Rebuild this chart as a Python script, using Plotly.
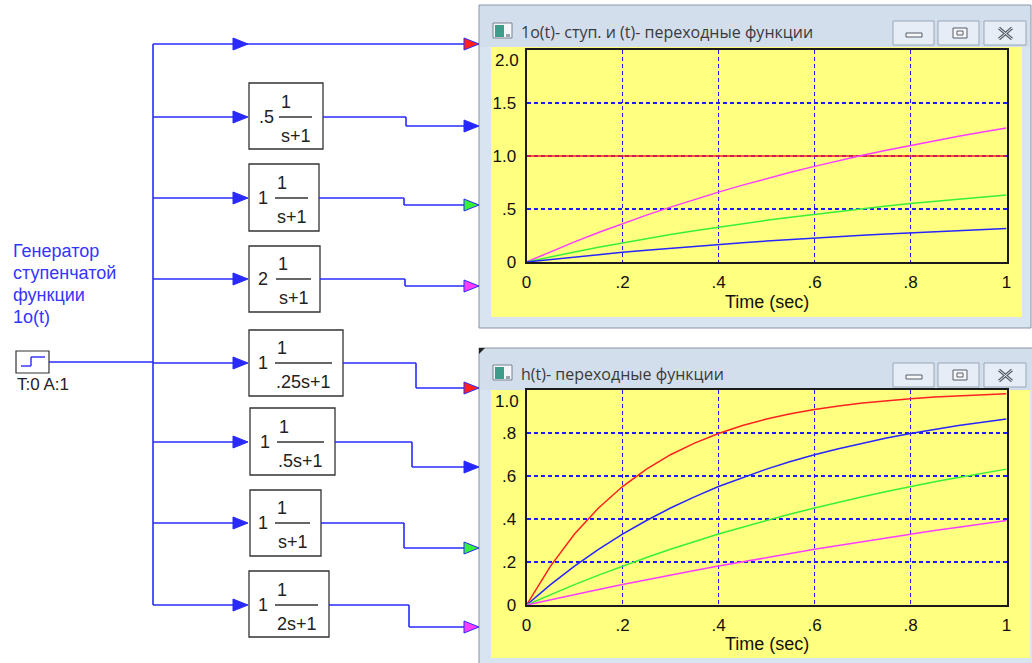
import plotly.graph_objects as go

W, H = 1032, 663

# ---------------- data ----------------
t = [0.0, 0.05, 0.1, 0.15, 0.2, 0.25, 0.3, 0.35, 0.4, 0.45, 0.5,
     0.55, 0.6, 0.65, 0.7, 0.75, 0.8, 0.85, 0.9, 0.95, 1.0]

# upper window: step 1o(t) and gains .5, 1, 2 times 1/(s+1)
top_step = [1.0, 1.0, 1.0, 1.0, 1.0, 1.0, 1.0, 1.0, 1.0, 1.0, 1.0,
            1.0, 1.0, 1.0, 1.0, 1.0, 1.0, 1.0, 1.0, 1.0, 1.0]
top_k05 = [0.0, 0.024, 0.048, 0.070, 0.091, 0.111, 0.130, 0.148, 0.165, 0.181, 0.197,
           0.212, 0.226, 0.239, 0.252, 0.264, 0.275, 0.286, 0.297, 0.307, 0.316]
top_k1 = [0.0, 0.049, 0.095, 0.139, 0.181, 0.221, 0.259, 0.295, 0.330, 0.362, 0.393,
          0.423, 0.451, 0.478, 0.503, 0.528, 0.551, 0.573, 0.593, 0.613, 0.632]
top_k2 = [0.0, 0.098, 0.190, 0.279, 0.363, 0.442, 0.518, 0.590, 0.659, 0.725, 0.787,
          0.846, 0.902, 0.956, 1.007, 1.055, 1.101, 1.145, 1.187, 1.227, 1.264]

# lower window: 1/(Ts+1) with T = .25, .5, 1, 2
bot_T025 = [0.0, 0.181, 0.330, 0.451, 0.551, 0.632, 0.699, 0.753, 0.798, 0.835, 0.865,
            0.889, 0.909, 0.926, 0.939, 0.950, 0.959, 0.967, 0.973, 0.978, 0.982]
bot_T05 = [0.0, 0.095, 0.181, 0.259, 0.330, 0.393, 0.451, 0.503, 0.551, 0.593, 0.632,
           0.667, 0.699, 0.727, 0.753, 0.777, 0.798, 0.817, 0.835, 0.850, 0.865]
bot_T1 = [0.0, 0.049, 0.095, 0.139, 0.181, 0.221, 0.259, 0.295, 0.330, 0.362, 0.393,
          0.423, 0.451, 0.478, 0.503, 0.528, 0.551, 0.573, 0.593, 0.613, 0.632]
bot_T2 = [0.0, 0.025, 0.049, 0.072, 0.095, 0.118, 0.139, 0.161, 0.181, 0.201, 0.221,
          0.240, 0.259, 0.277, 0.295, 0.313, 0.330, 0.346, 0.362, 0.378, 0.393]

x_tickvals = [0, 0.2, 0.4, 0.6, 0.8, 1.0]
x_ticktext = ["0", ".2", ".4", ".6", ".8", "1"]
top_y_tickvals = [0, 0.5, 1.0, 1.5, 2.0]
top_y_ticktext = ["0", ".5", "1.0", "1.5", "2.0"]
bot_y_tickvals = [0, 0.2, 0.4, 0.6, 0.8, 1.0]
bot_y_ticktext = ["0", ".2", ".4", ".6", ".8", "1.0"]

top_title = "1o(t)- ступ. и (t)- переходные функции"
bot_title = "h(t)- переходные функции"
x_title = "Time (sec)"
gen_label = ["Генератор", "ступенчатой", "функции", "1o(t)"]
gen_params = "T:0 A:1"
block_gain = [".5", "1", "2", "1", "1", "1", "1"]
block_num = ["1", "1", "1", "1", "1", "1", "1"]
block_den = ["s+1", "s+1", "s+1", ".25s+1", ".5s+1", "s+1", "2s+1"]

# ---------------- styles / geometry ----------------
RED, BLUE, GREEN, MAG = "#ff2020", "#2626ff", "#38f038", "#ff3cff"
WIRE = "#2a2aff"
YELLOW = "#ffff80"
FRAME = "#d9e4f1"
FONT = "Liberation Sans"


def X(px):
    return px / W


def Y(py):
    return 1 - py / H


shapes = []
annotations = []


def line(x0, y0, x1, y1, color=WIRE, width=1.6, layer="above"):
    shapes.append(dict(type="line", xref="paper", yref="paper", layer=layer,
                       x0=X(x0), y0=Y(y0), x1=X(x1), y1=Y(y1),
                       line=dict(color=color, width=width)))


def rect(x0, y0, x1, y1, fill, lc="rgba(0,0,0,0)", lw=0, layer="above"):
    shapes.append(dict(type="rect", xref="paper", yref="paper", layer=layer,
                       x0=X(x0), y0=Y(y0), x1=X(x1), y1=Y(y1),
                       fillcolor=fill, line=dict(color=lc, width=lw)))


def tri(xtip, y, fill, lc=WIRE):
    p = "M {},{} L {},{} L {},{} Z".format(X(xtip - 15), Y(y - 6), X(xtip), Y(y),
                                           X(xtip - 15), Y(y + 6))
    shapes.append(dict(type="path", xref="paper", yref="paper", path=p,
                       fillcolor=fill, line=dict(color=lc, width=1)))


def text(x, y, s, size=18, color="#222", family=FONT, xanchor="center"):
    annotations.append(dict(x=X(x), y=Y(y), xref="paper", yref="paper", text=s,
                            showarrow=False, xanchor=xanchor, yanchor="middle",
                            borderpad=0,
                            font=dict(family=family, size=size, color=color)))


# ---------------- windows ----------------
def window(top, bottom, right_frame, right_yellow, yellow_top, title, dy):
    rect(479, top, right_frame, bottom, FRAME, "#8792a2", 1, layer="below")
    rect(480, top + 1, right_frame - 1, yellow_top, "#d2deec", layer="below")
    rect(491, yellow_top, right_yellow, bottom - 11, YELLOW, layer="below")
    # icon
    rect(493, 23 + dy, 512, 38 + dy, "#f4f6f8", "#7a8290", 1)
    rect(495, 25 + dy, 504, 37 + dy, "#3f9c8a")
    rect(506, 34 + dy, 510, 37 + dy, "#9aa4b0")
    text(520, 32 + dy, title, size=16, color="#3a3a3a", family="Open Sans", xanchor="left")
    # caption buttons
    for bx0, bx1 in [(893, 934), (938, 979), (984, 1026)]:
        rect(bx0, 21 + dy, bx1, 45 + dy, "#e6edf6", "#98a6b8", 1)
    rect(906, 33 + dy, 922, 37 + dy, "#f8f8f8", "#555d68", 1)
    rect(953, 28 + dy, 967, 38 + dy, "#f8f8f8", "#555d68", 1)
    rect(957, 31 + dy, 963, 35 + dy, "#f8f8f8", "#555d68", 1)
    line(999, 28 + dy, 1012, 39 + dy, "#555d68", 3)
    line(999, 39 + dy, 1012, 28 + dy, "#555d68", 3)
    line(999, 28 + dy, 1012, 39 + dy, "#f0f0f0", 1)
    line(999, 39 + dy, 1012, 28 + dy, "#f0f0f0", 1)


window(5, 328, 1031, 1022, 47, top_title, 0)
window(348, 669, 1034, 1030, 390, bot_title, 342)
# dark corner of the lower window
shapes.append(dict(type="path", xref="paper", yref="paper",
                   path="M {},{} L {},{} L {},{} Z".format(X(479), Y(348), X(485), Y(348), X(479), Y(354)),
                   fillcolor="#222", line=dict(width=0)))

text(767, 302, x_title, size=18, color="#111")
text(767, 644, x_title, size=18, color="#111")
# the topmost y label of each chart sits a little below its tick, inside the window
text(520, 60, top_y_ticktext[-1], size=17, color="#111", xanchor="right")
text(520, 402, bot_y_ticktext[-1], size=17, color="#111", xanchor="right")

# ---------------- block diagram ----------------
# generator
rect(16, 351, 49, 373, "white", "#333", 1.2)
line(21, 366, 31, 366, WIRE, 1.4)
line(31, 366, 31, 357, WIRE, 1.4)
line(31, 357, 45, 357, WIRE, 1.4)
line(49, 362, 153, 362)
text(16, 384, gen_params, size=17, color="#222", xanchor="left")
for i, s in enumerate(gen_label):
    text(12, 251 + 22 * i, s, size=18, color="#3535ff", xanchor="left")

# bus
line(153, 44, 153, 605)

# direct step line to window 1
line(153, 44, 464, 44)
tri(248, 44, WIRE)
tri(479, 44, RED)

box_in_y = [117, 198, 279, 363, 442, 523, 605]
box_x0 = [249, 249, 249, 249, 250, 250, 249]
box_x1 = [323, 319, 320, 343, 335, 321, 329]
box_y0 = [83, 164, 246, 330, 408, 490, 571]
box_y1 = [149, 231, 312, 396, 475, 556, 637]
step_x = [406, 404, 405, 416, 412, 404, 409]
out_y = [126, 205, 286, 388, 467, 548, 627]
gain_x = [266, 263, 263, 263, 265, 263, 263]
frac_x0 = [279, 275, 276, 275, 277, 275, 275]
frac_x1 = [312, 308, 311, 332, 324, 310, 318]
arrow_col = [BLUE, GREEN, MAG, RED, BLUE, GREEN, MAG]

for i in range(7):
    yi = box_in_y[i]
    line(153, yi, 233, yi)
    tri(248, yi, WIRE)
    rect(box_x0[i], box_y0[i], box_x1[i], box_y1[i], "white", "#333", 1.3)
    line(box_x1[i], yi, step_x[i], yi)
    line(step_x[i], yi, step_x[i], out_y[i])
    line(step_x[i], out_y[i], 464, out_y[i])
    tri(479, out_y[i], arrow_col[i])
    text(gain_x[i], yi, block_gain[i])
    line(frac_x0[i], yi, frac_x1[i], yi, "#333", 1.3)
    fx = (frac_x0[i] + frac_x1[i]) / 2
    text(frac_x0[i] + 7, yi - 15, block_num[i])
    text(fx, yi + 19, block_den[i])

# ---------------- charts ----------------
fig = go.Figure()


def curve(y, color, xa, ya):
    fig.add_trace(go.Scatter(x=t, y=y, mode="lines", xaxis=xa, yaxis=ya,
                             line=dict(color=color, width=1.5), hoverinfo="skip"))


curve(top_step, RED, "x", "y")
curve(top_k2, MAG, "x", "y")
curve(top_k1, GREEN, "x", "y")
curve(top_k05, BLUE, "x", "y")

curve(bot_T025, RED, "x2", "y2")
curve(bot_T05, BLUE, "x2", "y2")
curve(bot_T1, GREEN, "x2", "y2")
curve(bot_T2, MAG, "x2", "y2")

axis_common = dict(showgrid=True, gridcolor="#1c1cff", griddash="4px,3px",
                   showline=True, mirror=True, linecolor="#1a1a1a", linewidth=2,
                   zeroline=False, ticks="", fixedrange=True, automargin=False,
                   tickfont=dict(family=FONT, size=17, color="#111"))

fig.update_layout(
    width=W, height=H, autosize=False,
    margin=dict(l=0, r=0, t=0, b=0, pad=0, autoexpand=False),
    paper_bgcolor="white", plot_bgcolor="rgba(0,0,0,0)",
    showlegend=False,
    xaxis=dict(domain=[X(526.5), X(1006.5)], range=[0, 1], anchor="y", gridwidth=1,
               tickvals=x_tickvals, ticktext=x_ticktext, ticklabelstandoff=4, **axis_common),
    yaxis=dict(domain=[Y(262), Y(50)], range=[0, 2], anchor="x", gridwidth=1.5,
               tickvals=top_y_tickvals[:-1], ticktext=top_y_ticktext[:-1],
               ticklabelstandoff=5, **axis_common),
    xaxis2=dict(domain=[X(526.5), X(1006.5)], range=[0, 1], anchor="y2", gridwidth=1,
                tickvals=x_tickvals, ticktext=x_ticktext, ticklabelstandoff=4, **axis_common),
    yaxis2=dict(domain=[Y(605), Y(390)], range=[0, 1], anchor="x2", gridwidth=1.5,
                tickvals=bot_y_tickvals[:-1], ticktext=bot_y_ticktext[:-1],
                ticklabelstandoff=5, **axis_common),
    shapes=shapes,
    annotations=annotations,
)

fig.write_html(
    "out.html",
    config={"displayModeBar": False},
    post_script="document.body.style.margin='0';document.body.style.padding='0';"
                "document.body.style.overflow='hidden';",
)
